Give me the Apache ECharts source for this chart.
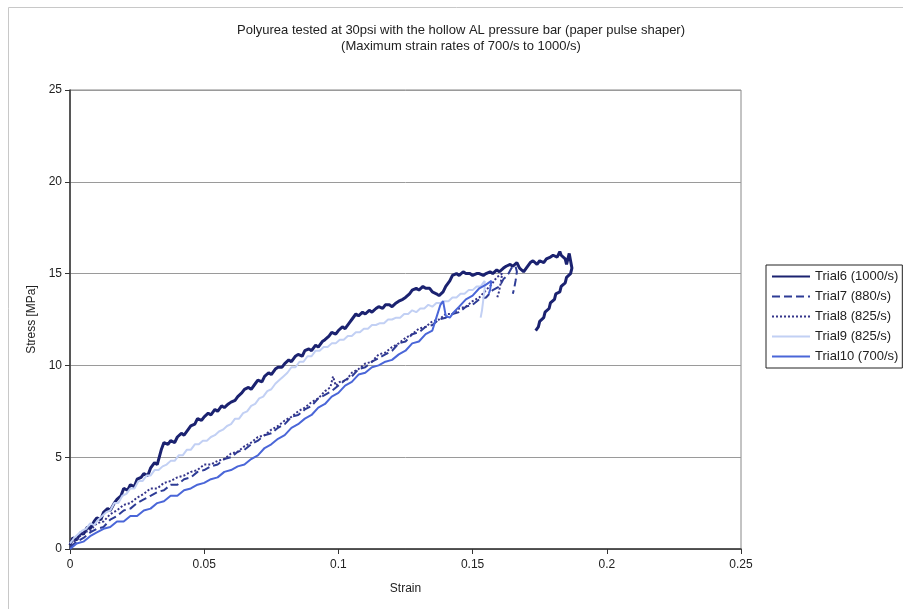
<!DOCTYPE html>
<html>
<head>
<meta charset="utf-8">
<script src="https://cdn.jsdelivr.net/npm/echarts@6/dist/echarts.min.js"></script>
<style>
  html, body { margin: 0; padding: 0; background: #fff; }
  #chart { width: 903px; height: 609px; }
</style>
</head>
<body>
<div id="chart"></div>
<script>
// Axis ticks
const strainTicks = [0, 0.05, 0.1, 0.15, 0.2, 0.25];
const stressTicks = [0, 5, 10, 15, 20, 25];

const seriesNames = ['Trial6 (1000/s)', 'Trial7 (880/s)', 'Trial8 (825/s)', 'Trial9 (825/s)', 'Trial10 (700/s)'];

// [strain, stress MPa] pairs per trial
const trial6 = [
  [0.000,0.2],[0.001,0.6],[0.0025,0.5],[0.004,0.9],[0.005,0.8],[0.0065,1.2],[0.0075,1.1],[0.009,1.5],[0.010,1.7],[0.0115,1.6],
  [0.0125,2.0],[0.014,2.2],[0.015,2.1],[0.0165,2.5],[0.0175,2.7],[0.019,2.9],[0.020,3.3],[0.0215,3.2],[0.0225,3.5],[0.024,3.4],
  [0.025,3.8],[0.0265,3.9],[0.0275,4.1],[0.029,4.0],[0.030,4.4],[0.0315,4.7],[0.0325,4.6],[0.034,5.4],[0.035,5.8],[0.0365,5.7],
  [0.0375,5.9],[0.039,5.8],[0.040,6.1],[0.0415,6.3],[0.0425,6.2],[0.044,6.5],[0.045,6.7],[0.0465,6.8],[0.0475,7.1],[0.049,7.0],
  [0.050,7.2],[0.0515,7.4],[0.0525,7.3],[0.054,7.6],[0.055,7.5],[0.0565,7.8],[0.0575,7.7],[0.059,7.9],[0.060,8.0],[0.0615,8.1],
  [0.0625,8.3],[0.064,8.5],[0.065,8.7],[0.0665,8.8],[0.0675,8.7],[0.069,9.0],[0.070,9.2],[0.0715,9.1],[0.0725,9.4],[0.074,9.6],
  [0.075,9.5],[0.0765,9.8],[0.0775,9.9],[0.079,9.9],[0.080,10.1],[0.0815,10.3],[0.0825,10.2],[0.084,10.5],[0.085,10.6],[0.0865,10.5],
  [0.0875,10.8],[0.089,10.9],[0.090,10.8],[0.0915,11.1],[0.0925,11.0],[0.094,11.3],[0.095,11.4],[0.0965,11.6],[0.0975,11.8],[0.099,11.7],
  [0.100,11.9],[0.1015,12.1],[0.1025,12.0],[0.104,12.3],[0.105,12.5],[0.1065,12.8],[0.1075,12.7],[0.109,12.9],[0.110,12.8],[0.1115,13.0],
  [0.1125,12.9],[0.114,13.1],[0.115,13.2],[0.1165,13.1],[0.1175,13.3],[0.119,13.3],[0.120,13.2],[0.1215,13.4],[0.1225,13.5],[0.124,13.6],
  [0.125,13.7],[0.1265,13.9],[0.1275,14.1],[0.129,14.2],[0.130,14.1],[0.1315,14.3],[0.1325,14.2],[0.134,14.2],[0.135,14.0],[0.1365,13.9],
  [0.1375,13.8],[0.139,14.0],[0.140,14.3],[0.1415,14.6],[0.1425,14.9],[0.144,15.0],[0.145,14.9],[0.1465,15.1],[0.1475,15.0],[0.149,15.0],
  [0.150,14.9],[0.1515,15.0],[0.1525,15.0],[0.154,14.9],[0.155,15.0],[0.1565,15.1],[0.1575,15.0],[0.159,15.2],[0.160,15.1],[0.1615,15.3],
  [0.1625,15.4],[0.164,15.5],[0.165,15.4],[0.1665,15.6],[0.1675,15.3],[0.169,15.1],[0.170,15.3],[0.1715,15.6],[0.1725,15.7],[0.174,15.5],
  [0.175,15.7],[0.1765,15.6],[0.1775,15.8],[0.179,15.9],[0.180,16.0],[0.1815,15.9],[0.1825,16.2],[0.183,16.0],[0.1845,15.8],[0.185,15.5],
  [0.186,16.1],[0.1865,15.7],[0.187,15.3],[0.1865,15.0],[0.185,14.8],[0.1845,14.5],[0.183,14.3],[0.1825,14.0],[0.181,13.9],[0.1805,13.6],
  [0.179,13.4],[0.1785,13.1],[0.177,12.9],[0.1765,12.6],[0.175,12.4],[0.1745,12.1],[0.1735,11.9]
];

const trial7 = [
  [0.000,0.1],[0.0025,0.4],[0.005,0.6],[0.0075,0.9],[0.010,1.1],[0.0125,1.2],[0.015,1.6],[0.0175,1.8],[0.020,2.1],[0.0225,2.2],
  [0.025,2.5],[0.0275,2.7],[0.030,2.9],[0.0325,3.1],[0.035,3.2],[0.0375,3.5],[0.040,3.5],[0.0425,3.8],[0.045,3.9],[0.0475,4.2],
  [0.050,4.3],[0.0525,4.5],[0.055,4.6],[0.0575,4.9],[0.060,5.0],[0.0625,5.3],[0.065,5.4],[0.0675,5.7],[0.070,5.9],[0.0725,6.2],
  [0.075,6.3],[0.0775,6.6],[0.080,6.8],[0.0825,7.2],[0.085,7.3],[0.0875,7.6],[0.090,7.8],[0.0925,8.2],[0.095,8.4],[0.0975,8.6],
  [0.100,8.9],[0.1025,9.2],[0.105,9.4],[0.1075,9.8],[0.110,9.9],[0.1125,10.2],[0.115,10.4],[0.1175,10.6],[0.120,10.8],[0.1225,11.2],
  [0.125,11.3],[0.1275,11.7],[0.130,11.8],[0.1325,12.1],[0.135,12.2],[0.1375,12.5],[0.140,12.6],[0.1425,12.8],[0.145,12.9],[0.1475,13.2],
  [0.150,13.3],[0.1525,13.6],[0.155,13.7],[0.1575,14.1],[0.160,14.3],[0.1615,14.7],[0.163,14.9],[0.1645,15.3],[0.166,15.4],[0.1665,15.1],
  [0.166,14.6],[0.1655,14.2],[0.165,13.9]
];

const trial8 = [
  [0.000,0.3],[0.0025,0.5],[0.005,0.9],[0.0075,1.0],[0.010,1.4],[0.0125,1.5],[0.015,1.9],[0.0175,2.1],[0.020,2.4],[0.0225,2.5],
  [0.025,2.8],[0.0275,3.0],[0.030,3.3],[0.0325,3.3],[0.035,3.6],[0.0375,3.7],[0.040,3.9],[0.0425,4.0],[0.045,4.2],[0.0475,4.3],
  [0.050,4.6],[0.0525,4.6],[0.055,4.8],[0.0575,4.9],[0.060,5.2],[0.0625,5.3],[0.065,5.6],[0.0675,5.8],[0.070,6.1],[0.0725,6.2],
  [0.075,6.5],[0.0775,6.7],[0.080,7.0],[0.0825,7.2],[0.085,7.5],[0.0875,7.7],[0.090,8.0],[0.0925,8.2],[0.095,8.6],[0.097,8.8],
  [0.098,9.4],[0.099,8.9],[0.1005,9.1],[0.103,9.2],[0.105,9.6],[0.1075,9.8],[0.110,10.1],[0.1125,10.2],[0.115,10.6],[0.1175,10.7],
  [0.120,11.0],[0.1225,11.2],[0.125,11.5],[0.1275,11.7],[0.130,12.0],[0.1325,12.1],[0.135,12.4],[0.1375,12.5],[0.140,12.8],[0.1425,12.8],
  [0.145,13.1],[0.1475,13.2],[0.150,13.5],[0.1525,13.7],[0.155,14.1],[0.157,14.4],[0.159,14.8],[0.161,15.0],[0.1605,14.5],[0.1598,14.0],
  [0.159,13.6]
];

const trial9 = [
  [0.000,0.3],[0.0015,0.6],[0.003,0.8],[0.0045,1.0],[0.006,1.1],[0.0075,1.4],[0.009,1.3],[0.0105,1.6],[0.012,1.8],[0.0135,2.0],
  [0.015,2.1],[0.0165,2.5],[0.018,2.5],[0.0195,2.9],[0.021,3.0],[0.0225,3.3],[0.024,3.3],[0.0255,3.7],[0.027,3.7],[0.0285,4.0],
  [0.030,4.0],[0.0315,4.3],[0.033,4.3],[0.0345,4.5],[0.036,4.6],[0.0375,4.8],[0.039,4.8],[0.0405,5.1],[0.042,5.1],[0.0435,5.4],
  [0.045,5.4],[0.0465,5.7],[0.048,5.7],[0.0495,5.9],[0.051,5.9],[0.0525,6.1],[0.054,6.2],[0.0555,6.4],[0.057,6.5],[0.0585,6.7],
  [0.060,6.8],[0.0615,7.1],[0.063,7.1],[0.0645,7.4],[0.066,7.5],[0.0675,7.8],[0.069,7.9],[0.0705,8.2],[0.072,8.3],[0.0735,8.6],
  [0.075,8.7],[0.0765,9.0],[0.078,9.2],[0.0795,9.4],[0.081,9.6],[0.0825,9.9],[0.084,9.9],[0.0855,10.2],[0.087,10.2],[0.0885,10.5],
  [0.090,10.5],[0.0915,10.8],[0.093,10.8],[0.0945,11.0],[0.096,11.0],[0.0975,11.2],[0.099,11.2],[0.1005,11.4],[0.102,11.4],[0.1035,11.6],
  [0.105,11.6],[0.1065,11.8],[0.108,11.8],[0.1095,12.0],[0.111,12.0],[0.1125,12.2],[0.114,12.2],[0.1155,12.3],[0.117,12.3],[0.1185,12.5],
  [0.120,12.5],[0.1215,12.6],[0.123,12.6],[0.1245,12.8],[0.126,12.8],[0.1275,13.0],[0.129,12.9],[0.1305,13.1],[0.132,13.1],[0.1335,13.3],
  [0.135,13.2],[0.1365,13.4],[0.138,13.4],[0.1395,13.5],[0.141,13.5],[0.1425,13.7],[0.144,13.7],[0.1455,13.9],[0.147,13.9],[0.1485,14.1],
  [0.150,14.1],[0.1515,14.3],[0.153,14.3],[0.1545,14.6],[0.155,14.7],[0.1545,14.2],[0.154,13.6],[0.1535,13.0],[0.153,12.6]
];

const trial10 = [
  [0.000,0.0],[0.0025,0.3],[0.005,0.4],[0.0075,0.7],[0.010,0.9],[0.0125,1.1],[0.015,1.2],[0.0175,1.5],[0.020,1.5],[0.0225,1.8],
  [0.025,1.8],[0.0275,2.1],[0.030,2.2],[0.0325,2.5],[0.035,2.6],[0.0375,2.9],[0.040,2.9],[0.0425,3.2],[0.045,3.3],[0.0475,3.5],
  [0.050,3.6],[0.0525,3.8],[0.055,3.9],[0.0575,4.2],[0.060,4.3],[0.0625,4.5],[0.065,4.6],[0.0675,4.9],[0.070,5.1],[0.0725,5.5],
  [0.075,5.7],[0.0775,6.0],[0.080,6.2],[0.0825,6.6],[0.085,6.8],[0.0875,7.1],[0.090,7.3],[0.0925,7.7],[0.095,7.9],[0.0975,8.3],
  [0.100,8.5],[0.1025,8.9],[0.105,9.1],[0.1075,9.5],[0.110,9.6],[0.1125,9.9],[0.115,10.0],[0.1175,10.2],[0.120,10.3],[0.1225,10.6],
  [0.125,10.8],[0.1275,11.2],[0.130,11.3],[0.1325,11.7],[0.135,11.9],[0.1365,12.6],[0.138,13.3],[0.139,13.5],[0.140,12.7],[0.1415,12.6],
  [0.143,12.9],[0.145,13.2],[0.1475,13.6],[0.150,13.8],[0.1525,14.2],[0.155,14.4],[0.157,14.6],[0.1565,14.1],[0.156,13.9]
];

const seriesData = [trial6, trial7, trial8, trial9, trial10];
const seriesColors = ['#1b2270', '#2e3c96', '#35358a', '#c2d0f4', '#4a66d8'];
const seriesWidths = [3, 2, 2, 2, 2];
const seriesDash = ['solid', 'dashed', 'dotted', 'solid', 'solid'];

const FONT = 'Liberation Sans, Arial, sans-serif';
const chart = echarts.init(document.getElementById('chart'), null, { renderer: 'canvas' });

chart.setOption({
  backgroundColor: '#fff',
  animation: false,
  graphic: [{
    type: 'rect',
    shape: { x: 8.5, y: 7.5, width: 1000, height: 700 },
    style: { fill: 'none', stroke: '#c8c8c8', lineWidth: 1 },
    silent: true
  }],
  title: {
    text: 'Polyurea tested at 30psi with the hollow AL pressure bar (paper pulse shaper)\n(Maximum strain rates of 700/s to 1000/s)',
    left: 456,
    top: 17,
    textAlign: 'center',
    textStyle: { fontFamily: FONT, fontSize: 13, fontWeight: 'normal', color: '#222', lineHeight: 16 }
  },
  legend: {
    orient: 'vertical',
    left: 766,
    top: 265,
    padding: [5, 4, 5, 5],
    itemGap: 7,
    itemWidth: 38,
    itemHeight: 12,
    borderColor: '#222',
    borderWidth: 1,
    textStyle: { fontFamily: FONT, fontSize: 13, color: '#222' },
    data: seriesNames
  },
  grid: {
    left: 70, top: 90, right: 162, bottom: 60,
    show: true, borderColor: '#888', borderWidth: 1
  },
  xAxis: {
    type: 'value',
    min: strainTicks[0],
    max: strainTicks[strainTicks.length - 1],
    interval: 0.05,
    name: 'Strain',
    nameLocation: 'middle',
    nameGap: 34,
    nameTextStyle: { fontFamily: FONT, fontSize: 12, color: '#222' },
    axisLine: { onZero: false, lineStyle: { color: '#333', width: 1.5 } },
    axisTick: { show: true, inside: false, length: 5, lineStyle: { color: '#333' } },
    axisLabel: { fontFamily: FONT, fontSize: 12, color: '#222', margin: 10,
      formatter: v => String(+v.toFixed(2)) },
    splitLine: { show: false }
  },
  yAxis: {
    type: 'value',
    min: stressTicks[0],
    max: stressTicks[stressTicks.length - 1],
    interval: 5,
    name: 'Stress [MPa]',
    nameLocation: 'middle',
    nameGap: 32,
    nameRotate: 90,
    nameTextStyle: { fontFamily: FONT, fontSize: 12, color: '#222' },
    axisLine: { show: true, onZero: false, lineStyle: { color: '#333', width: 1.5 } },
    axisTick: { show: true, inside: false, length: 5, lineStyle: { color: '#333' } },
    axisLabel: { fontFamily: FONT, fontSize: 12, color: '#222', margin: 8 },
    splitLine: { show: true, lineStyle: { color: '#9a9a9a', width: 1 } }
  },
  series: seriesNames.map((name, i) => ({
    name,
    type: 'line',
    data: seriesData[i],
    showSymbol: false,
    symbol: 'none',
    smooth: false,
    z: 2 + i,
    itemStyle: { color: 'rgba(0,0,0,0)', borderColor: 'rgba(0,0,0,0)', borderWidth: 0 },
    lineStyle: { color: seriesColors[i], width: seriesWidths[i], type: seriesDash[i] }
  }))
});
</script>
</body>
</html>
